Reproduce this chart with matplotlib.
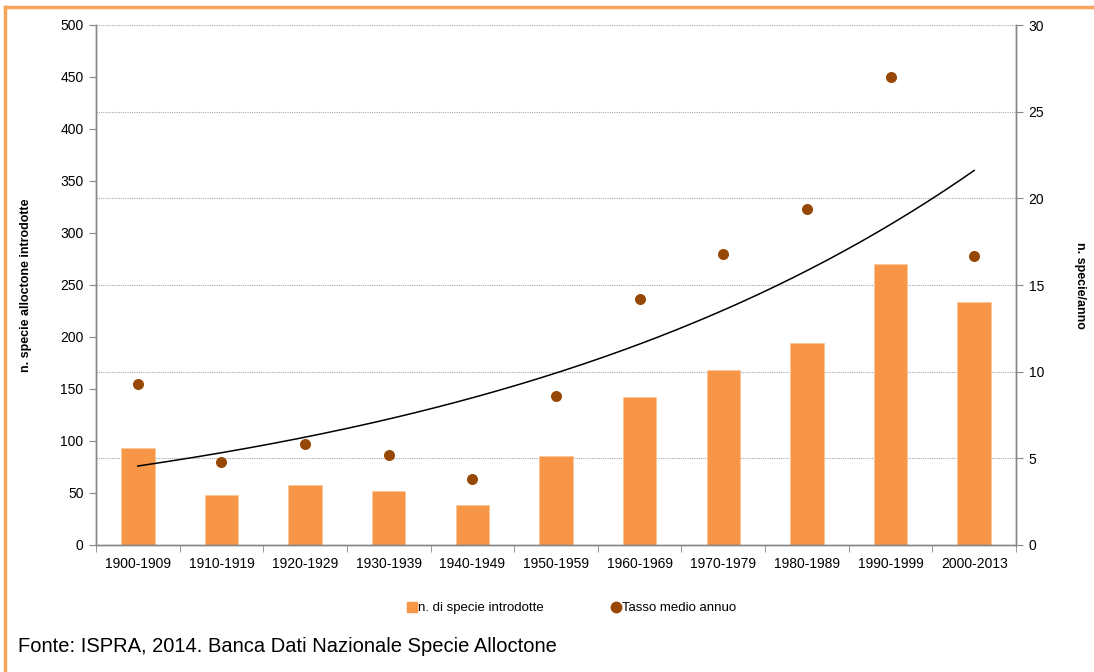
import matplotlib.pyplot as plt
import numpy as np
from matplotlib.lines import Line2D

# Data
# -----------------------------------------------------------
decades = [
    "1900-1909", "1910-1919", "1920-1929", "1930-1939", "1940-1949", "1950-1959",
    "1960-1969", "1970-1979", "1980-1989", "1990-1999", "2000-2013",
]
n_species = [93, 48, 58, 52, 38, 86, 142, 168, 194, 270, 234]
rate_per_year = [9.3, 4.8, 5.8, 5.2, 3.8, 8.6, 14.2, 16.8, 19.4, 27.0, 16.7]

bar_color = "#F79646"
dot_color = "#974806"
frame_color = "#F9A65A"
axis_gray = "#868686"

plt.rcParams["font.family"] = ["Liberation Sans", "DejaVu Sans"]

fig = plt.figure(figsize=(10.94, 6.72), dpi=100)
ax = fig.add_axes([96 / 1094, 1 - 545 / 672, 920 / 1094, 520 / 672])
ax2 = ax.twinx()

x = np.arange(len(decades))

# grid from the secondary axis, drawn underneath
for v in range(5, 31, 5):
    ax.axhline(v / 30 * 500, color="#A8A8A8", linestyle=(0, (1, 1)), linewidth=0.8, zorder=0)

bars = ax.bar(x, n_species, width=0.4, color=bar_color, edgecolor="#FBC79A",
              linewidth=0.6, label="n. di specie introdotte", zorder=2)
dots = ax2.scatter(x, rate_per_year, s=48, color=dot_color, zorder=3,
                   label="Tasso medio annuo")

# exponential trend line fitted on the yearly rate
b, log_a = np.polyfit(x + 1, np.log(rate_per_year), 1)
xt = np.linspace(0, len(decades) - 1, 200)
ax2.plot(xt, np.exp(log_a + b * (xt + 1)), color="black", linewidth=1.1, zorder=4)

ax.set_xlim(-0.5, len(decades) - 0.5)
ax.set_ylim(0, 500)
ax2.set_ylim(0, 30)
ax.set_yticks(range(0, 501, 50))
ax2.set_yticks(range(0, 31, 5))

ax.set_xticks(x)
ax.set_xticklabels(decades, fontsize=10)
ax.set_xticks(np.arange(-0.5, len(decades), 1), minor=True)
ax.tick_params(axis="x", which="major", length=0, pad=9)
ax.tick_params(axis="x", which="minor", length=5, color=axis_gray, direction="out")
ax.tick_params(axis="y", length=5, color=axis_gray, labelsize=10, pad=4)
ax2.tick_params(axis="y", length=5, color=axis_gray, labelsize=10, pad=4)

for a in (ax, ax2):
    a.spines["top"].set_visible(False)
    for s in ("left", "right", "bottom"):
        a.spines[s].set_color(axis_gray)
        a.spines[s].set_linewidth(1.0)

ax.set_ylabel("n. specie alloctone introdotte", fontsize=9, fontweight="bold")
ax2.set_ylabel("n. specie/anno", fontsize=9, fontweight="bold", rotation=-90, va="bottom")
ax.yaxis.set_label_coords(-0.070, 0.5)
ax2.yaxis.set_label_coords(1.063, 0.5)

handles = [
    Line2D([], [], marker="s", linestyle="none", color=bar_color, markersize=7),
    Line2D([], [], marker="o", linestyle="none", color=dot_color, markersize=7.5),
]
fig.legend(handles, ["n. di specie introdotte", "Tasso medio annuo"], loc="center",
           bbox_to_anchor=(572 / 1094, 1 - 608 / 672), ncol=2, frameon=False,
           fontsize=9.5, handlelength=0.6, handletextpad=0.15, columnspacing=5.2)

fig.text(18 / 1094, 1 - 646 / 672, "Fonte: ISPRA, 2014. Banca Dati Nazionale Specie Alloctone",
         fontsize=14.5, va="center", ha="left")

# orange frame (top and left edges)
fig.add_artist(Line2D([5 / 1094, 1], [1 - 7 / 672, 1 - 7 / 672], transform=fig.transFigure,
                      color=frame_color, linewidth=2.5))
fig.add_artist(Line2D([5 / 1094, 5 / 1094], [0, 1 - 7 / 672], transform=fig.transFigure,
                      color=frame_color, linewidth=2.5))

plt.savefig("out.png", dpi=100)
